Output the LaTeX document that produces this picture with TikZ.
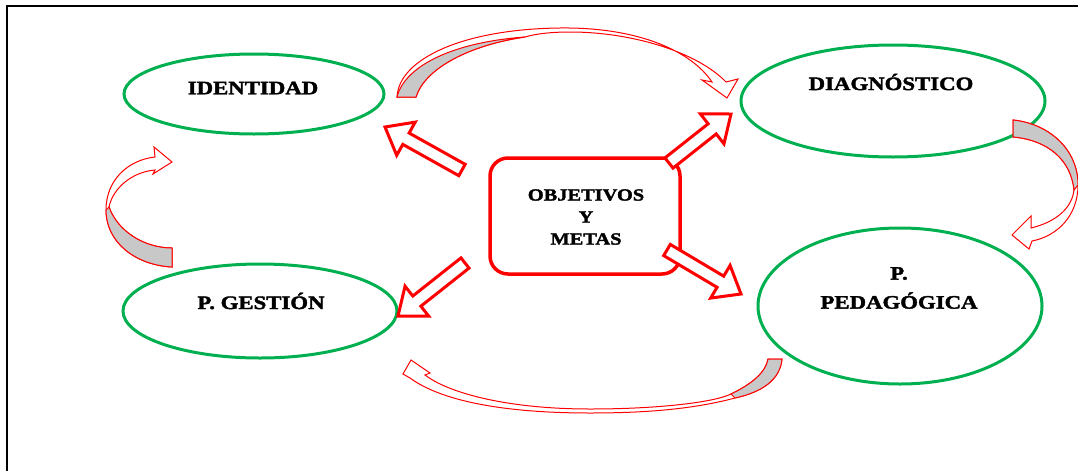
\documentclass[tikz,border=0pt]{standalone}
\usepackage{fontspec}
\newfontfamily\lblfont{Liberation Serif}[FakeStretch=1.2, BoldFeatures={FakeBold=2}]
\usetikzlibrary{calc,shapes.geometric}
\definecolor{wred}{HTML}{FF0000}
\definecolor{wgreen}{HTML}{00B050}
\definecolor{wgray}{HTML}{C8C8C8}
\tikzset{
  frame/.style={draw=black, line width=2.2pt},
  oval/.style={draw=wgreen, line width=3pt, ellipse, inner sep=0pt},
  centerbox/.style={draw=wred, line width=3.5pt, rounded corners=18pt, inner sep=0pt},
  lbl/.style={font=\lblfont\bfseries\fontsize{19}{23}\selectfont, align=center, inner sep=0pt},
  clbl/.style={font=\lblfont\bfseries\fontsize{17}{22}\selectfont, align=center, inner sep=0pt},
  blockarr/.style={draw=wred, fill=white, line width=3pt, line join=miter},
  curvarr/.style={draw=wred, fill=white, line width=1pt, line join=miter},
  curvgray/.style={draw=wred, fill=wgray, line width=1pt, line join=miter}
}
\newcommand\blockarrow[3]{%
  \coordinate (#3b) at ($(#2)!24pt!(#1)$);
  \draw[blockarr] ($(#1)!6.5pt!90:(#2)$) -- ($(#3b)!6.5pt!-90:(#1)$) -- ($(#3b)!19pt!-90:(#1)$)
    -- (#2) -- ($(#3b)!19pt!90:(#1)$) -- ($(#3b)!6.5pt!90:(#1)$) -- ($(#1)!6.5pt!-90:(#2)$) -- cycle;}
\begin{document}
\begin{tikzpicture}[x=1pt,y=-1pt]
\useasboundingbox (0,0) rectangle (1078,471);
\draw[frame] (7,471) -- (7,6) -- (1078,6);

% ovals
\node[oval, minimum width=260pt, minimum height=80pt] (iden) at (254,94) {};
\node[oval, minimum width=304pt, minimum height=112pt] (diag) at (893,101) {};
\node[oval, minimum width=274pt, minimum height=94pt] (gest) at (260,311) {};
\node[oval, minimum width=284pt, minimum height=156pt] (peda) at (900,306) {};
\node[centerbox, minimum width=190pt, minimum height=116pt] (obj) at (585,216) {};

% labels
\node[lbl] (tiden) at (253,88) {IDENTIDAD};
\node[lbl] (tdiag) at (891,82) {DIAGNÓSTICO};
\node[lbl] (tgest) at (261,301) {P. GESTIÓN};
\node[lbl] (tpeda) at (899,288) {P.\\[6pt]PEDAGÓGICA};
\node[clbl] (tobj) at (586,217) {OBJETIVOS\\Y\\METAS};

% straight block arrows
\coordinate (a1t) at (462,170); \coordinate (a1h) at (385,127);
\coordinate (a2t) at (669,163); \coordinate (a2h) at (731,114);
\coordinate (a3t) at (667,250); \coordinate (a3h) at (741,294);
\coordinate (a4t) at (465,263); \coordinate (a4h) at (398,316);
\blockarrow{a1t}{a1h}{a1}
\blockarrow{a2t}{a2h}{a2}
\blockarrow{a3t}{a3h}{a3}
\blockarrow{a4t}{a4h}{a4}

% top curved arrow: identidad -> diagnostico
\draw[curvarr] (397,97) .. controls (399,58) and (465,29) .. (560,28)
  .. controls (640,27) and (692,52) .. (712,82) -- (702,80) -- (727,98) -- (738,79) -- (726,82)
  .. controls (697,52) and (632,32) .. (570,32) .. controls (550,32) and (535,34) .. (525,37)
  .. controls (470,45) and (425,68) .. (416,97) -- cycle;
\draw[curvgray] (397,97) .. controls (405,65) and (455,42) .. (525,37)
  .. controls (470,45) and (425,68) .. (416,97) -- cycle;

% right curved arrow: diagnostico -> pedagogica
\draw[curvarr] (1013,120) .. controls (1050,124) and (1078,150) .. (1078,185)
  .. controls (1078,215) and (1058,236) .. (1032,241) -- (1029,249) -- (1012,235) -- (1031,216) -- (1031,228)
  .. controls (1056,222) and (1072,208) .. (1074,190)
  .. controls (1071,160) and (1048,140) .. (1013,137) -- cycle;
\draw[curvgray] (1013,120) .. controls (1050,124) and (1078,150) .. (1078,185) -- (1074,190)
  .. controls (1071,160) and (1048,140) .. (1013,137) -- cycle;

% left curved arrow: gestion -> identidad
\draw[curvarr] (172,267) .. controls (135,265) and (106,242) .. (106,210)
  .. controls (106,180) and (128,160) .. (155,157) -- (154,147) -- (172,162) -- (153,174) -- (155,170)
  .. controls (132,172) and (113,188) .. (109,207)
  .. controls (118,232) and (145,248) .. (172,248) -- cycle;
\draw[curvgray] (172,267) .. controls (135,265) and (106,242) .. (106,210) -- (109,207)
  .. controls (118,232) and (145,248) .. (172,248) -- cycle;

% bottom curved arrow: pedagogica -> gestion
\draw[curvarr] (782,359) .. controls (780,380) and (762,392) .. (735,398)
  .. controls (690,410) and (640,413) .. (590,413) .. controls (500,413) and (440,400) .. (410,378)
  -- (403,374) -- (411,360) -- (430,373) -- (425,375)
  .. controls (450,394) and (510,409) .. (590,409) .. controls (660,409) and (715,402) .. (731,394)
  .. controls (752,384) and (766,372) .. (768,359) -- cycle;
\draw[curvgray] (782,359) .. controls (780,380) and (762,392) .. (735,398) -- (731,394)
  .. controls (752,384) and (766,372) .. (768,359) -- cycle;
\end{tikzpicture}
\end{document}
